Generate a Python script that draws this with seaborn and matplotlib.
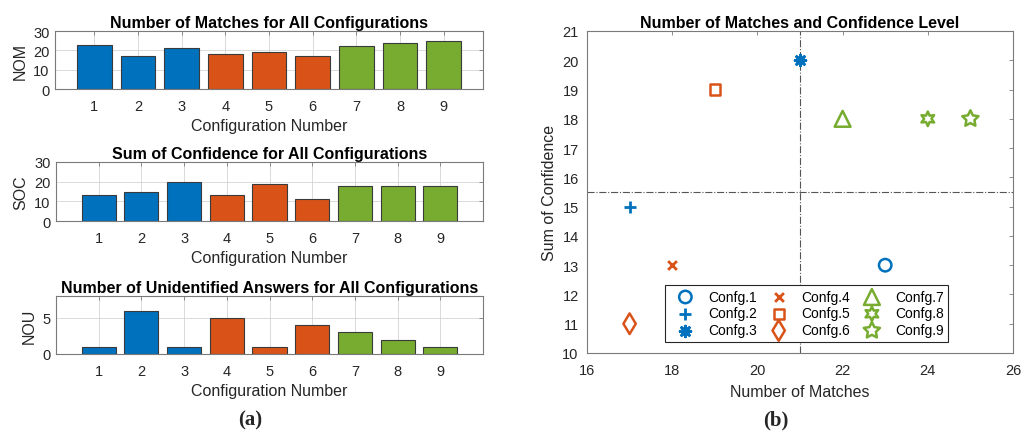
import numpy as np
import pandas as pd
import matplotlib
matplotlib.use("Agg")
import matplotlib.pyplot as plt
import seaborn as sns

# ---- data -------------------------------------------------------------
configs = [1, 2, 3, 4, 5, 6, 7, 8, 9]
groups = ["A", "A", "A", "B", "B", "B", "C", "C", "C"]
nom = [23, 17, 21, 18, 19, 17, 22, 24, 25]   # number of matches
soc = [13, 15, 20, 13, 19, 11, 18, 18, 18]   # sum of confidence
nou = [1, 6, 1, 5, 1, 4, 3, 2, 1]            # unidentified answers
legend_labels = ["Confg.%d" % c for c in configs]
nom_split = 21.0
soc_split = 15.5

# ---- style ------------------------------------------------------------
sns.set_theme(style="white")
plt.rcParams["font.family"] = ["Liberation Sans", "DejaVu Sans"]
TXT = "#262626"
EDGE = "#7a7a7a"
palette = {"A": "#0072BD", "B": "#D95319", "C": "#77AC30"}
group_color = [palette[g] for g in groups]

W, H = 1033, 439
fig = plt.figure(figsize=(W / 100, H / 100), dpi=100)


def rect(x0, y0, x1, y1):
    return [x0 / W, 1 - y1 / H, (x1 - x0) / W, (y1 - y0) / H]


def style_axes(ax, grid, ypad=4):
    for s in ax.spines.values():
        s.set_color(EDGE)
        s.set_linewidth(0.8)
    ax.tick_params(direction="in", top=True, right=True, length=3,
                   width=0.6, color=EDGE, labelsize=10.5, labelcolor=TXT)
    ax.tick_params(axis="x", pad=7)
    ax.tick_params(axis="y", pad=ypad)
    if grid:
        ax.xaxis.grid(True, which="major", color="#d4d4d4", linewidth=0.6)
        ax.yaxis.grid(True, which="major", color="#d4d4d4", linewidth=0.6)
        ax.set_axisbelow(True)
    else:
        ax.grid(False)


df = pd.DataFrame({"config": configs, "group": groups,
                   "NOM": nom, "SOC": soc, "NOU": nou})

bar_specs = [
    ("NOM", "Number of Matches for All Configurations", (55, 32, 483, 90),
     (0.1, 9.9), (0, 30), [0, 10, 20, 30]),
    ("SOC", "Sum of Confidence for All Configurations", (56, 163, 483, 222),
     (0, 10), (0, 30), [0, 10, 20, 30]),
    ("NOU", "Number of Unidentified Answers for All Configurations",
     (56, 297, 483, 355), (0, 10), (0, 8), [0, 5]),
]

for col, title, box, xl, yl, yt in bar_specs:
    ax = fig.add_axes(rect(*box))
    sns.barplot(data=df, x="config", y=col, hue="group", palette=palette,
                native_scale=True, dodge=False, width=0.8, saturation=1,
                edgecolor="#3a3a3a", linewidth=0.8, legend=False, ax=ax)
    ax.set_xlim(*xl)
    ax.set_ylim(*yl)
    ax.set_xticks(configs)
    ax.set_xticklabels([str(c) for c in configs])
    ax.set_yticks(yt)
    style_axes(ax, grid=True)
    ax.set_title(title, fontsize=11.5, fontweight="bold", color="black", pad=3)
    ax.set_xlabel("Configuration Number", fontsize=11.5, color=TXT, labelpad=4)
    ax.set_ylabel(col, fontsize=11.5, color=TXT, labelpad=4)

# ---- scatter ----------------------------------------------------------
ax = fig.add_axes(rect(587, 32, 1013, 354))
markers = ["o", "+", (8, 2, 0), "x", "s", "d", "^", (6, 1, 0), (5, 1, 0)]
sizes = [80, 80, 60, 40, 55, 110, 130, 110, 150]

ax.axvline(nom_split, color="#555555", linestyle="-.", linewidth=0.8, zorder=1)
ax.axhline(soc_split, color="#555555", linestyle="-.", linewidth=0.8, zorder=1)

for xv, yv, m, s, c, lab in zip(nom, soc, markers, sizes, group_color,
                                legend_labels):
    ms = matplotlib.markers.MarkerStyle(m)
    if ms.is_filled():
        sns.scatterplot(x=[xv], y=[yv], marker=m, s=s, color=c,
                        facecolor="none", edgecolor=c, linewidth=1.8,
                        label=lab, ax=ax, zorder=3)
    else:
        sns.scatterplot(x=[xv], y=[yv], marker=m, s=s, color=c,
                        linewidth=2.0, label=lab, ax=ax, zorder=3)

ax.set_xlim(16, 26)
ax.set_ylim(10, 21)
ax.set_xticks(range(16, 27, 2))
ax.set_yticks(range(10, 22))
style_axes(ax, grid=False, ypad=6)
ax.set_title("Number of Matches and Confidence Level", fontsize=11.5,
             fontweight="bold", color="black", pad=3)
ax.set_xlabel("Number of Matches", fontsize=11.5, color=TXT, labelpad=5)
ax.set_ylabel("Sum of Confidence", fontsize=11.5, color=TXT, labelpad=4)

leg = ax.legend(ncol=3, loc="lower center", bbox_to_anchor=(0.516, 0.034),
                borderaxespad=0, fontsize=10, frameon=True, fancybox=False,
                edgecolor=TXT, framealpha=1, borderpad=0.35,
                labelspacing=0.2, handletextpad=0.55, columnspacing=0.45,
                handlelength=2.2)
leg.get_frame().set_linewidth(0.8)
for t in leg.get_texts():
    t.set_color("black")

fig.text(250 / W, 1 - 420 / H, "(a)", ha="center", va="center",
         fontsize=15, fontweight="bold", family="Liberation Serif")
fig.text(776 / W, 1 - 420 / H, "(b)", ha="center", va="center",
         fontsize=15, fontweight="bold", family="Liberation Serif")

fig.savefig("out.png", dpi=100)
